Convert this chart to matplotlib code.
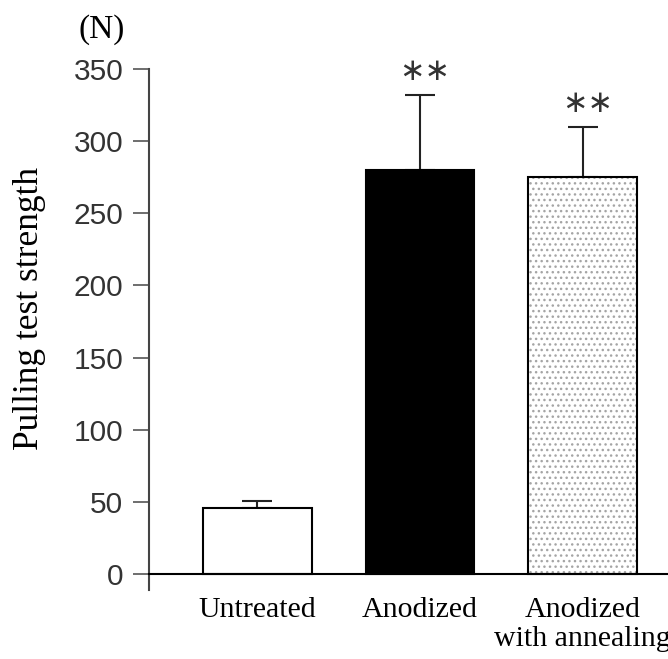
import matplotlib
matplotlib.use("Agg")
import matplotlib.pyplot as plt

categories = ["Untreated", "Anodized", "Anodized\nwith annealing"]
strength = [46, 280, 275]
error = [5, 52, 35]
signif = ["", "∗∗", "∗∗"]
yticks = [0, 50, 100, 150, 200, 250, 300, 350]

serif = ["Liberation Serif", "DejaVu Serif"]
sans = ["Liberation Sans", "DejaVu Sans"]

fig = plt.figure(figsize=(6.68, 6.59), dpi=100)
ax = fig.add_axes([149 / 668, (659 - 590) / 659, 1 - 149 / 668, (590 - 69) / 659])

x = list(range(len(categories)))
width = 0.67
lw = 1.5

# Untreated: white bar
ax.bar(x[0], strength[0], width, color="white", edgecolor="black", linewidth=lw, zorder=2)
# Anodized: solid black bar
ax.bar(x[1], strength[1], width, color="black", edgecolor="black", linewidth=lw, zorder=2)
# Anodized with annealing: light dotted fill
ax.bar(x[2], strength[2], width, color="white", edgecolor="#a5a5a5", linewidth=0,
       hatch="...", zorder=2)
ax.bar(x[2], strength[2], width, fill=False, edgecolor="black", linewidth=lw, zorder=3)

# upper error bars only
ax.errorbar(x, strength, yerr=[[0, 0, 0], error], fmt="none", ecolor="#222222",
            elinewidth=lw, capsize=11, capthick=lw, zorder=1)

for xi, v, e, s in zip(x, strength, error, signif):
    if s:
        ax.text(xi + 0.03, v + e + 16, s, ha="center", va="center",
                fontsize=22, color="#333333", family=["DejaVu Sans"])

ax.set_xlim(-0.667, 2.526)
ax.set_ylim(-11, 350)

for side in ("top", "right"):
    ax.spines[side].set_visible(False)
ax.spines["bottom"].set_position(("data", 0))
ax.spines["bottom"].set_linewidth(lw)
ax.spines["bottom"].set_color("black")
ax.spines["left"].set_linewidth(lw)
ax.spines["left"].set_color("#444444")

ax.set_yticks(yticks)
ax.set_yticklabels([str(t) for t in yticks], fontsize=21.5, color="#333333", family=sans)
ax.tick_params(axis="y", direction="out", length=11.5, width=1.2, color="#555555", pad=7)

ax.set_xticks([])
for xi, c in zip(x, categories):
    ax.text(xi, -16, c, ha="center", va="top", fontsize=21.5, family=serif,
            multialignment="center", linespacing=1.15, clip_on=False)

fig.text(30 / 668, 1 - 308 / 659, "Pulling test strength", rotation=90,
         ha="center", va="center", fontsize=25.5, family=serif)
fig.text(102 / 668, 1 - 30 / 659, "(N)", ha="center", va="center",
         fontsize=24, family=serif)

fig.savefig("out.png", dpi=100)
